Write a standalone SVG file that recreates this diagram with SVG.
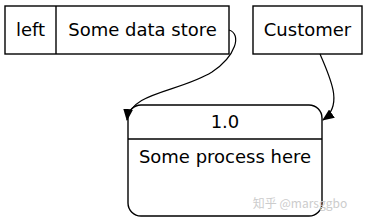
<svg xmlns="http://www.w3.org/2000/svg" width="368" height="224" viewBox="0 0 368 224">
<defs>
<style>
.box{fill:#fff;stroke:#000;stroke-width:1.4}
.t{font-family:"DejaVu Sans",sans-serif;font-size:18px;fill:#000;text-anchor:middle}
.e{fill:none;stroke:#000;stroke-width:1.2}
</style>
<marker id="ah" markerWidth="12" markerHeight="10" refX="11" refY="5" orient="auto" markerUnits="userSpaceOnUse">
<path d="M0,0 L12,5 L0,10 Z" fill="#000"/>
</marker>
</defs>
<rect width="368" height="224" fill="#fff"/>
<g id="datastore">
<rect class="box" x="5" y="6" width="224" height="48"/>
<line x1="56" y1="6" x2="56" y2="54" stroke="#000" stroke-width="1.4"/>
<text class="t" x="30.5" y="36">left</text>
<text class="t" x="142.5" y="36">Some data store</text>
</g>
<g id="customer">
<rect class="box" x="253" y="6" width="109" height="48"/>
<text class="t" x="307.5" y="36">Customer</text>
</g>
<g id="process">
<rect class="box" x="128" y="105" width="194" height="111" rx="13" ry="13"/>
<line x1="128" y1="139" x2="322" y2="139" stroke="#000" stroke-width="1.4"/>
<text class="t" x="225" y="128">1.0</text>
<text class="t" x="225" y="163">Some process here</text>
</g>
<g id="edges">
<path class="e" marker-end="url(#ah)" d="M229,30 C242,34 236,56 212,72 C180,92 130,92 127,120"/>
<path class="e" marker-end="url(#ah)" d="M320,54 C330,78 344,105 323,120"/>
</g>
<text x="300" y="208" font-family="'Noto Sans CJK SC',sans-serif" font-size="12" fill="#ccc" text-anchor="middle">知乎 @marsggbo</text>
</svg>
